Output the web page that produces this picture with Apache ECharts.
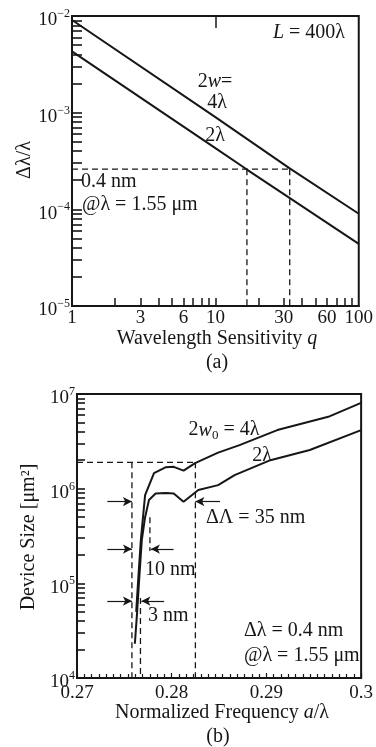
<!DOCTYPE html>
<html>
<head>
<meta charset="utf-8">
<script src="https://cdn.jsdelivr.net/npm/echarts@6/dist/echarts.min.js"></script>
<style>
  html, body { margin: 0; padding: 0; background: #fff; }
  #chart { width: 376px; height: 747px; }
</style>
</head>
<body>
<div id="chart"></div>
<script>
// ---- (a) relative bandwidth vs. wavelength sensitivity, L = 400 lambda ----
const qWide = [1, 10, 33, 100];                 // 2w = 4 lambda
const dWide = [9.1e-3, 9.0e-4, 2.65e-4, 9.0e-5];
const qNarrow = [1, 10, 16.6, 100];             // 2w = 2 lambda
const dNarrow = [4.3e-3, 4.3e-4, 2.58e-4, 4.4e-5];
const dTarget = 2.6e-4;                         // 0.4 nm @ 1.55 um
const qCross = [16.6, 33];
const qLabels = [1, 3, 6, 10, 30, 60, 100];
const qTicks = [2, 3, 4, 5, 6, 7, 8, 9, 10, 20, 30, 40, 50, 60, 70, 80, 90];
const qMajor = [10];
const dDecades = [1e-5, 1e-4, 1e-3, 1e-2];

// ---- (b) device size vs. normalized frequency ----
const fWide = [0.27625, 0.27646, 0.27674, 0.27719, 0.27813, 0.27934, 0.28021, 0.28125,
  0.28247, 0.2849, 0.28716, 0.29115, 0.29653, 0.30];
const sWide = [5.0e4, 1.08e5, 2.86e5, 8.55e5, 1.46e6, 1.68e6, 1.70e6, 1.55e6,
  1.86e6, 2.4e6, 2.88e6, 4.16e6, 5.74e6, 8.07e6];
const fNarrow = [0.27611, 0.27635, 0.27656, 0.27684, 0.27719, 0.2776, 0.2783, 0.27938,
  0.28021, 0.28125, 0.28281, 0.2849, 0.28664, 0.29042, 0.29458, 0.30];
const sNarrow = [2.3e4, 5.0e4, 1.08e5, 2.86e5, 5.0e5, 7.6e5, 8.9e5, 9.0e5,
  8.9e5, 7.28e5, 9.66e5, 1.09e6, 1.39e6, 2.0e6, 2.56e6, 4.16e6];
const sLevel = 1.9e6;
const fEdges = [0.2758, 0.2767, 0.2777, 0.2825];   // dashed markers
const arrows3 = { y: 6.5e4, from: [0.2732, 0.2792], to: [0.2758, 0.2768] };
const arrows10 = { y: 2.3e5, from: [0.2732, 0.2802], to: [0.2758, 0.2778] };
const arrows35 = { y: 7.3e5, from: [0.2732, 0.2851], to: [0.2758, 0.2825] };
const sDecades = [1e4, 1e5, 1e6, 1e7];

const INK = '#161616';
const SERIF = '"Liberation Serif", "DejaVu Serif", serif';
const FS = 19;     // tick labels
const TS = 20;     // names and notes

function minorLog(decades) {
  const out = [];
  decades.slice(0, -1).forEach(d => { for (let m = 1; m < 10; m++) out.push(d * m); });
  out.push(decades[decades.length - 1]);
  return out;
}

const powRich = {
  b: { fontFamily: SERIF, fontSize: FS, color: INK, verticalAlign: 'bottom' },
  s: { fontFamily: SERIF, fontSize: 12, color: INK, verticalAlign: 'top', padding: [0, 0, 10, 0] }
};
const powLabel = v => {
  const e = Math.round(Math.log10(v));
  return '{b|10}{s|' + (e < 0 ? '\u2212' + (-e) : e) + '}';
};

const line = (xs, ys, idx) => ({
  type: 'line', xAxisIndex: idx, yAxisIndex: idx, symbol: 'none', silent: true,
  data: xs.map((x, i) => [x, ys[i]]),
  lineStyle: { color: INK, width: 2 }, z: 3
});
const dash = (pts, idx) => ({
  type: 'line', xAxisIndex: idx, yAxisIndex: idx, symbol: 'none', silent: true,
  data: pts, lineStyle: { color: INK, width: 1.3, type: [6, 4] }, z: 2
});
const arrowPairs = a => [0, 1].map(i => [
  { coord: [a.from[i], a.y] }, { coord: [a.to[i], a.y] }
]);

const txt = (x, y, text, opts = {}) => ({
  type: 'text', x, y, rotation: opts.rot || 0, silent: true,
  style: {
    text, fill: INK, font: TS + 'px ' + SERIF,
    align: opts.align || 'center', verticalAlign: 'middle',
    rich: {
      i: { fontFamily: SERIF, fontSize: TS, fontStyle: 'italic', color: INK },
      sub: { fontFamily: SERIF, fontSize: 13, color: INK, verticalAlign: 'top', padding: [9, 0, 0, 0] },
      n: { fontFamily: SERIF, fontSize: TS, color: INK, verticalAlign: 'top' }
    }
  }
});

const chart = echarts.init(document.getElementById('chart'), null, { renderer: 'canvas' });

chart.setOption({
  animation: false,
  backgroundColor: '#fff',
  grid: [
    { left: 72, right: 14, top: 16, height: 290, show: true, borderColor: INK, borderWidth: 2 },
    { left: 77, right: 10, top: 394, bottom: 69, show: true, borderColor: INK, borderWidth: 2 }
  ],
  xAxis: [
    {
      type: 'log', gridIndex: 0, min: 1, max: 100, logBase: 10,
      axisLine: { lineStyle: { color: INK, width: 2 } },
      axisTick: { inside: true, length: 8, customValues: qTicks, lineStyle: { color: INK, width: 1.5 } },
      axisLabel: { customValues: qLabels, color: INK, fontFamily: SERIF, fontSize: FS, margin: 3,
        formatter: v => String(Math.round(v)) },
      splitLine: { show: false }
    },
    {
      type: 'value', gridIndex: 1, min: 0.27, max: 0.30, interval: 0.01,
      axisLine: { lineStyle: { color: INK, width: 2 } },
      axisTick: { inside: true, length: 5, lineStyle: { color: INK, width: 1.2 } },
      minorTick: { show: true, splitNumber: 13, length: 4, lineStyle: { color: INK, width: 1.2 } },
      axisLabel: { color: INK, fontFamily: SERIF, fontSize: FS, margin: 6,
        formatter: v => String(+v.toFixed(2)) },
      splitLine: { show: false }
    },
    {
      // overlay: the longer tick at q = 10
      type: 'log', gridIndex: 0, min: 1, max: 100, logBase: 10,
      axisLine: { show: false },
      axisTick: { inside: true, length: 12, customValues: qMajor, lineStyle: { color: INK, width: 1.5 } },
      axisLabel: { show: false },
      splitLine: { show: false }
    }
  ],
  yAxis: [
    {
      type: 'log', gridIndex: 0, min: 1e-5, max: 1e-2, logBase: 10,
      axisLine: { lineStyle: { color: INK, width: 2 } },
      axisTick: { inside: true, length: 10, customValues: minorLog(dDecades), lineStyle: { color: INK, width: 1.6 } },
      axisLabel: { customValues: dDecades, formatter: powLabel, rich: powRich, margin: 2, padding: [6, 0, 0, 0] },
      splitLine: { show: false }
    },
    {
      type: 'log', gridIndex: 1, min: 1e4, max: 1e7, logBase: 10,
      axisLine: { lineStyle: { color: INK, width: 2 } },
      axisTick: { inside: true, length: 8, customValues: minorLog(sDecades), lineStyle: { color: INK, width: 1.6 } },
      axisLabel: { customValues: sDecades, formatter: powLabel, rich: powRich, margin: 2, padding: [6, 0, 0, 0] },
      splitLine: { show: false }
    }
  ],
  series: [
    line(qWide, dWide, 0),
    line(qNarrow, dNarrow, 0),
    dash([[1, dTarget], [qCross[1], dTarget]], 0),
    dash([[qCross[0], dTarget], [qCross[0], 1e-5]], 0),
    dash([[qCross[1], dTarget], [qCross[1], 1e-5]], 0),

    line(fWide, sWide, 1),
    line(fNarrow, sNarrow, 1),
    dash([[0.27, sLevel], [fEdges[3], sLevel]], 1),
    dash([[fEdges[0], sLevel], [fEdges[0], 1e4]], 1),
    dash([[fEdges[1], 7e4], [fEdges[1], 1e4]], 1),
    dash([[fEdges[2], 5.0e5], [fEdges[2], 2.2e5]], 1),
    Object.assign(dash([[fEdges[3], sLevel], [fEdges[3], 1e4]], 1), {
      markLine: {
        silent: true, animation: false,
        symbol: ['none', 'arrow'], symbolSize: [7, 9],
        label: { show: false },
        lineStyle: { color: INK, width: 1.2, type: 'solid' },
        data: [...arrowPairs(arrows35), ...arrowPairs(arrows10), ...arrowPairs(arrows3)]
      }
    })
  ],
  graphic: [
    // panel (a)
    txt(309, 33, '{i|L} = 400λ'),
    txt(215, 82, '2{i|w}='),
    txt(217, 103, '4λ'),
    txt(215, 136, '2λ'),
    txt(81, 182, '0.4 nm', { align: 'left' }),
    txt(82, 205, '@λ = 1.55 μm', { align: 'left' }),
    txt(25, 160, 'Δλ/λ', { rot: Math.PI / 2 }),
    txt(217, 339, 'Wavelength Sensitivity {i|q}'),
    txt(217, 363, '(a)'),
    // panel (b)
    txt(224, 431, '{n|2}{i|w}{sub|0}{n| = 4λ}'),
    txt(262, 456, '2λ'),
    txt(206, 518, 'ΔΛ = 35 nm', { align: 'left' }),
    txt(145, 570, '10 nm', { align: 'left' }),
    txt(148, 616, '3 nm', { align: 'left' }),
    txt(244, 631, 'Δλ = 0.4 nm', { align: 'left' }),
    txt(244, 656, '@λ = 1.55 μm', { align: 'left' }),
    txt(29, 537, 'Device Size [μm²]', { rot: Math.PI / 2 }),
    txt(222, 713, 'Normalized Frequency {i|a}/λ'),
    txt(218, 737, '(b)')
  ]
});
</script>
</body>
</html>
